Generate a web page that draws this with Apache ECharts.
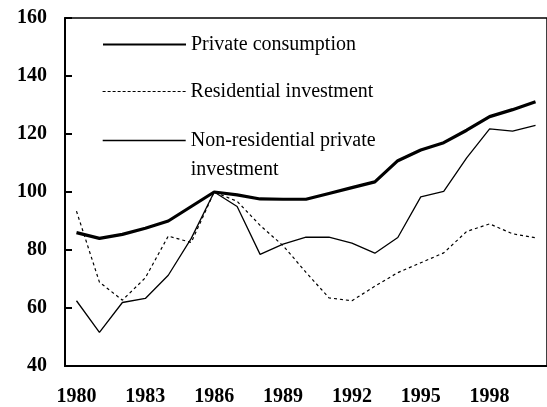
<!DOCTYPE html>
<html>
<head>
<meta charset="utf-8">
<script src="https://cdn.jsdelivr.net/npm/echarts@6/dist/echarts.min.js"></script>
<style>
  html, body { margin: 0; padding: 0; background: #fff; }
  #chart { width: 547px; height: 407px; }
</style>
</head>
<body>
<div id="chart"></div>
<script>
var years = ['1980', '1981', '1982', '1983', '1984', '1985', '1986', '1987', '1988', '1989', '1990',
  '1991', '1992', '1993', '1994', '1995', '1996', '1997', '1998', '1999', '2000'];

var privateConsumption = [86, 84, 85.4, 87.5, 90, 95, 100, 99, 97.6, 97.5, 97.5,
  99.5, 101.5, 103.5, 110.8, 114.5, 117, 121.3, 126, 128.4, 131.1];

var residentialInvestment = [93.4, 68.9, 62.7, 70.4, 84.8, 82.6, 100, 96.8, 88.5, 81.5, 72.3,
  63.5, 62.5, 67.5, 72.2, 75.6, 79, 86.4, 89, 85.6, 84.2];

var nonResidentialInvestment = [62.5, 51.6, 61.9, 63.3, 71.3, 84, 100, 95, 78.5, 82, 84.4,
  84.4, 82.4, 78.9, 84.3, 98.3, 100.2, 111.8, 121.8, 121, 123];

var yTicks = { min: 40, max: 160, step: 20 };

var serifFont = 'Liberation Serif';

var myChart = echarts.init(document.getElementById('chart'));

// one legend per row so each line can sit where it is in the figure
function legendAt(name, top, lineWidth, lineType) {
  return {
    data: [name],
    left: 102,
    top: top,
    orient: 'vertical',
    padding: 0,
    itemWidth: 83,
    itemHeight: 20,
    selectedMode: false,
    itemStyle: { opacity: 0 },
    lineStyle: {
      width: lineWidth,
      type: lineType,
      color: '#000'
    },
    textStyle: {
      fontFamily: serifFont,
      fontSize: 20,
      lineHeight: 29,
      color: '#000'
    },
    formatter: function (n) {
      if (n === 'Non-residential private investment') {
        return '\nNon-residential private\ninvestment';
      }
      return n;
    }
  };
}

var option = {
  animation: false,
  backgroundColor: '#fff',
  grid: {
    left: 65,
    right: -5,
    top: 18,
    bottom: 40,
    show: true,
    borderColor: '#000',
    borderWidth: 1.5
  },
  legend: [
    legendAt('Private consumption', 30, 2, 'solid'),
    legendAt('Residential investment', 77, 1.2, [3, 2]),
    legendAt('Non-residential private investment', 97, 1.4, 'solid')
  ],
  xAxis: {
    type: 'category',
    data: years,
    boundaryGap: true,
    axisLine: {
      lineStyle: { color: '#000', width: 2 }
    },
    axisTick: {
      inside: true,
      length: 6,
      interval: 0,
      lineStyle: { color: '#000', width: 1.5 }
    },
    axisLabel: {
      interval: 2,
      margin: 21,
      fontFamily: serifFont,
      fontSize: 20,
      fontWeight: 'bold',
      color: '#000'
    },
    splitLine: { show: false }
  },
  yAxis: {
    type: 'value',
    min: yTicks.min,
    max: yTicks.max,
    interval: yTicks.step,
    axisLine: {
      show: true,
      lineStyle: { color: '#000', width: 2 }
    },
    axisTick: {
      show: true,
      inside: true,
      length: 7,
      lineStyle: { color: '#000', width: 2 }
    },
    axisLabel: {
      margin: 18,
      fontFamily: serifFont,
      fontSize: 20,
      fontWeight: 'bold',
      color: '#000'
    },
    splitLine: { show: false }
  },
  series: [
    {
      name: 'Private consumption',
      type: 'line',
      symbol: 'none',
      data: privateConsumption,
      lineStyle: { color: '#000', width: 3.2 },
      itemStyle: { color: '#000' },
      z: 3
    },
    {
      name: 'Residential investment',
      type: 'line',
      symbol: 'none',
      data: residentialInvestment,
      lineStyle: { color: '#000', width: 1.2, type: [3, 3] },
      itemStyle: { color: '#000' }
    },
    {
      name: 'Non-residential private investment',
      type: 'line',
      symbol: 'none',
      data: nonResidentialInvestment,
      lineStyle: { color: '#000', width: 1.3 },
      itemStyle: { color: '#000' }
    }
  ]
};

myChart.setOption(option);
</script>
</body>
</html>
